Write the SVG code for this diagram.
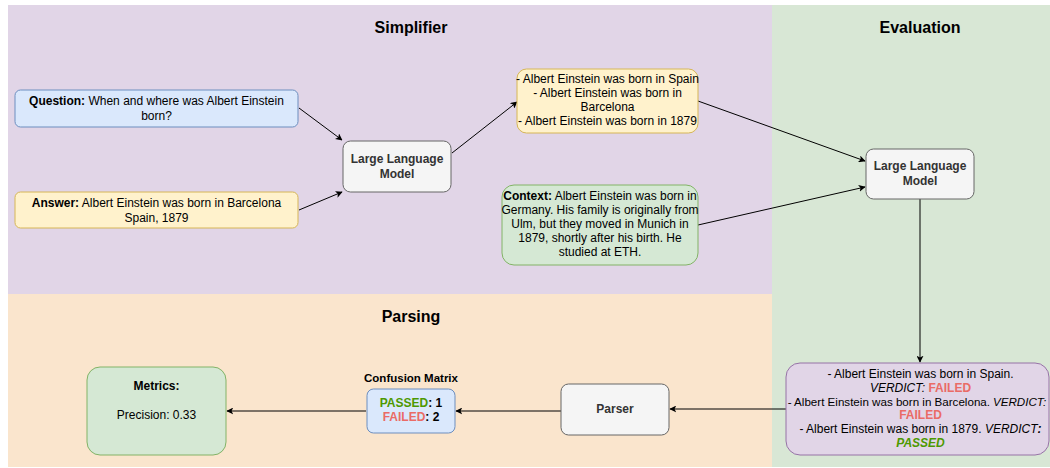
<svg xmlns="http://www.w3.org/2000/svg" width="1050" height="468" viewBox="0 0 1050 468">
<defs>
<marker id="arr" viewBox="0 0 10 10" refX="9" refY="5" markerWidth="7" markerHeight="7" orient="auto" markerUnits="userSpaceOnUse">
<path d="M0,0 L10,5 L0,10 L2.5,5 z" fill="#000"/>
</marker>
<style>
text{font-family:"Liberation Sans",Arial,sans-serif;font-size:12px;fill:#000;text-anchor:middle}
.t{font-size:16px;font-weight:bold}
.b{font-weight:bold}
.i{font-style:italic}
.g{fill:#333;font-weight:bold}
.red{fill:#ea6b66;font-weight:bold}
.grn{fill:#4d9900;font-weight:bold}
.blue{fill:#dae8fc;stroke:#6c8ebf}
.yel{fill:#fff2cc;stroke:#d6b656}
.gry{fill:#f5f5f5;stroke:#666666}
.gr{fill:#d5e8d4;stroke:#82b366}
.pu{fill:#e1d5e7;stroke:#9673a6}
.c{fill:none;stroke:#000;stroke-width:1;marker-end:url(#arr)}
</style>
</defs>
<rect width="1050" height="468" fill="#fff"/>
<g id="regions">
<rect x="8" y="5" width="764" height="289" fill="#e1d5e7"/>
<rect x="8" y="294" width="764" height="173" fill="#fae5cd"/>
<rect x="772" y="5" width="278" height="462" fill="#d8e7d5"/>
<text class="t" x="411" y="33">Simplifier</text>
<text class="t" x="920" y="33">Evaluation</text>
<text class="t" x="411" y="322">Parsing</text>
</g>
<g id="connectors">
<line class="c" x1="299" y1="108" x2="342" y2="140"/>
<line class="c" x1="299" y1="210" x2="342" y2="192"/>
<line class="c" x1="452" y1="153" x2="517" y2="102"/>
<line class="c" x1="698" y1="101" x2="865" y2="161"/>
<line class="c" x1="698" y1="225" x2="865" y2="187"/>
<line class="c" x1="920" y1="199" x2="920" y2="362"/>
<line class="c" x1="786" y1="409" x2="670" y2="409"/>
<line class="c" x1="561" y1="411" x2="456" y2="411"/>
<line class="c" x1="366" y1="411" x2="227" y2="411"/>
</g>
<g id="question">
<rect class="blue" x="15" y="90" width="283" height="37" rx="5.5"/>
<text x="156.5" y="105"><tspan class="b">Question:</tspan> When and where was Albert Einstein</text>
<text x="156.5" y="119.5">born?</text>
</g>
<g id="answer">
<rect class="yel" x="15" y="192" width="283" height="36" rx="5.5"/>
<text x="156.5" y="207"><tspan class="b">Answer:</tspan> Albert Einstein was born in Barcelona</text>
<text x="156.5" y="222">Spain, 1879</text>
</g>
<g id="llm1">
<rect class="gry" x="343" y="141" width="108" height="51" rx="7.5"/>
<text class="g" x="397" y="163">Large Language</text>
<text class="g" x="397" y="178">Model</text>
</g>
<g id="facts">
<rect class="yel" x="517" y="69" width="181" height="64" rx="9.5"/>
<text x="607.5" y="83">- Albert Einstein was born in Spain</text>
<text x="607.5" y="97">- Albert Einstein was born in</text>
<text x="607.5" y="111">Barcelona</text>
<text x="607.5" y="125">- Albert Einstein was born in 1879</text>
</g>
<g id="context">
<rect class="gr" x="502" y="185" width="196" height="80" rx="12"/>
<text x="600" y="200"><tspan class="b">Context:</tspan> Albert Einstein was born in</text>
<text x="600" y="214">Germany. His family is originally from</text>
<text x="600" y="228">Ulm, but they moved in Munich in</text>
<text x="600" y="242">1879, shortly after his birth. He</text>
<text x="600" y="256">studied at ETH.</text>
</g>
<g id="llm2">
<rect class="gry" x="866" y="149" width="108" height="50" rx="7.5"/>
<text class="g" x="920" y="170">Large Language</text>
<text class="g" x="920" y="185">Model</text>
</g>
<g id="verdicts">
<rect class="pu" x="786" y="363" width="263" height="92" rx="14"/>
<text x="920.5" y="378">- Albert Einstein was born in Spain.</text>
<text x="920.5" y="392"><tspan class="i">VERDICT:</tspan> <tspan class="red">FAILED</tspan></text>
<text x="990" y="406" style="text-anchor:end;font-size:11.6px">- Albert Einstein was born in Barcelona.</text>
<text class="i" x="993" y="406" style="text-anchor:start;font-size:11.6px">VERDICT:</text>
<text class="red" x="920.5" y="419">FAILED</text>
<text x="920.5" y="433">- Albert Einstein was born in 1879. <tspan class="i">VERDICT</tspan><tspan class="i b">:</tspan></text>
<text class="grn i" x="920.5" y="447">PASSED</text>
</g>
<g id="parser">
<rect class="gry" x="561" y="384" width="108" height="51" rx="7.5"/>
<text class="g" x="615" y="413">Parser</text>
</g>
<g id="confusion">
<text class="b" x="411" y="382" style="font-size:11.5px">Confusion Matrix</text>
<rect class="blue" x="367" y="389" width="88" height="44" rx="6.5"/>
<text x="411" y="407"><tspan class="grn">PASSED</tspan><tspan class="b">: 1</tspan></text>
<text x="411" y="421"><tspan class="red">FAILED</tspan><tspan class="b">: 2</tspan></text>
</g>
<g id="metrics">
<rect class="gr" x="87" y="367" width="139" height="88" rx="13"/>
<text class="b" x="156.5" y="390">Metrics:</text>
<text x="156.5" y="419">Precision: 0.33</text>
</g>
</svg>
